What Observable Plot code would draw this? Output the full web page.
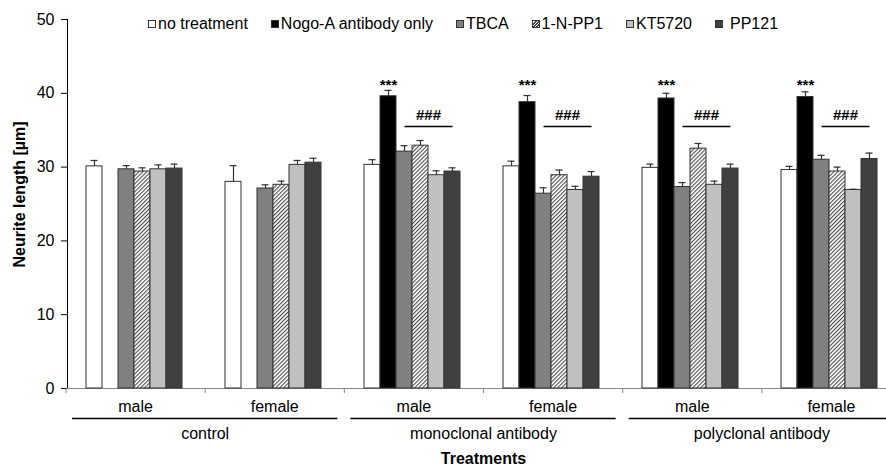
<!DOCTYPE html>
<html><head><meta charset="utf-8">
<script src="https://cdn.jsdelivr.net/npm/d3@7"></script>
<script src="https://cdn.jsdelivr.net/npm/@observablehq/plot@0.6"></script>
<style>
body{margin:0;background:#fff;overflow:hidden;font-family:"Liberation Sans",Arial,sans-serif;}
#wrap{position:relative;width:886px;height:466px;}
#legend{position:absolute;left:148px;top:15px;display:flex;align-items:center;font-size:16px;color:#000;white-space:nowrap;}
#legend .item{display:flex;align-items:center;margin-right:23px;}
#legend .sw{width:8px;height:8px;border:1px solid #333;box-sizing:border-box;margin-right:2px;}
</style></head><body>
<div id="wrap"><div id="legend"></div></div>
<script>
// ---- data ----
const groups = ["control|male","control|female","monoclonal|male","monoclonal|female","polyclonal|male","polyclonal|female"];
const sexLabels = ["male","female","male","female","male","female"];
const categories = ["control","monoclonal antibody","polyclonal antibody"];
const treatments = ["no treatment","Nogo-A antibody only","TBCA","1-N-PP1","KT5720","PP121"];
const fills = ["#ffffff","#000000","#808080","url(#hatch)","#c0c0c0","#404040"];

const noTreatment    = [30.1, 28.0, 30.3, 30.1, 29.9, 29.6];
const noTreatmentErr = [0.8, 2.2, 0.7, 0.7, 0.5, 0.5];
const nogoA          = [null, null, 39.6, 38.8, 39.3, 39.5];
const nogoAErr       = [null, null, 0.8, 0.9, 0.7, 0.7];
const tbca           = [29.7, 27.1, 32.1, 26.4, 27.3, 31.0];
const tbcaErr        = [0.5, 0.5, 0.8, 0.8, 0.6, 0.6];
const nPP1           = [29.4, 27.6, 32.9, 28.9, 32.5, 29.4];
const nPP1Err        = [0.5, 0.5, 0.7, 0.7, 0.7, 0.6];
const kt5720         = [29.7, 30.3, 28.9, 26.9, 27.6, 26.9];
const kt5720Err      = [0.6, 0.6, 0.6, 0.5, 0.5, 0.1];
const pp121          = [29.8, 30.6, 29.4, 28.7, 29.8, 31.1];
const pp121Err       = [0.6, 0.6, 0.5, 0.7, 0.6, 0.8];

const starMarks = ["", "", "***", "***", "***", "***"];
const hashMarks = ["", "", "###", "###", "###", "###"];
const starLevel = 41.1, hashTextLevel = 37.0, hashLineLevel = 35.5;
const yTicks = [0, 10, 20, 30, 40, 50];

// ---- table ----
const series = [[noTreatment, noTreatmentErr],[nogoA, nogoAErr],[tbca, tbcaErr],[nPP1, nPP1Err],[kt5720, kt5720Err],[pp121, pp121Err]];
const rows = [];
groups.forEach((g, gi) => series.forEach(([m, e], ti) => {
  if (m[gi] != null) rows.push({grp: g, treat: treatments[ti], mean: m[gi], sem: e[gi]});
}));
const sig = groups.map((g, i) => ({grp: g, star: starMarks[i], hash: hashMarks[i]})).filter(d => d.star);

// ---- legend ----
const leg = document.getElementById("legend");
treatments.forEach((t, i) => {
  const it = document.createElement("div"); it.className = "item";
  const sw = document.createElement("div"); sw.className = "sw";
  sw.style.background = i === 3 ? "repeating-linear-gradient(-45deg,#fff 0 1.2px,#444 1.2px 2.2px)" : fills[i];
  const tx = document.createElement("span"); tx.textContent = t;
  if (t === "PP121") sw.style.marginRight = "7px";
  it.append(sw, tx); leg.append(it);
});

const plot = Plot.plot({
  width: 886, height: 466,
  marginTop: 19, marginBottom: 78, marginLeft: 66, marginRight: 0,
  style: {fontFamily: "'Liberation Sans', Arial, sans-serif", fontSize: "16px", color: "#000", background: "transparent"},
  fx: {domain: groups, padding: 0, range: [66, 901], axis: null},
  x: {domain: treatments, paddingInner: 0, paddingOuter: 1.27, align: 0.44, axis: null},
  y: {domain: [0, 50], ticks: yTicks, tickSize: 6, tickPadding: 7, label: null, line: true},
  color: {domain: treatments, range: fills, legend: false},
  marks: [
    Plot.ruleY([0], {stroke: "#888"}),
    Plot.barY(rows, {fx: "grp", x: "treat", y: "mean", fill: "treat", stroke: "#333", strokeWidth: 1}),
    Plot.ruleX(rows, {fx: "grp", x: "treat", y1: "mean", y2: d => d.mean + d.sem, stroke: "#333", strokeWidth: 1.2}),
    Plot.tickY(rows, {fx: "grp", x: "treat", y: d => d.mean + d.sem, insetLeft: 4.5, insetRight: 4.5, stroke: "#333", strokeWidth: 1.2}),
    Plot.text(sig, {fx: "grp", x: () => "Nogo-A antibody only", y: () => starLevel, text: "star", fontSize: 15, fontWeight: "bold"}),
    Plot.text(sig, {fx: "grp", x: () => "1-N-PP1", dx: 8, y: () => hashTextLevel, text: "hash", fontSize: 15, fontWeight: "bold", textDecoration: "underline"}),
    Plot.link(sig, {fx: "grp", x1: () => "TBCA", x2: () => "PP121", y1: () => hashLineLevel, y2: () => hashLineLevel, stroke: "#000", strokeWidth: 1.6})
  ]
});

// ---- hatch pattern and bottom labels using plot's scales ----
const svg = d3.select(plot);
const defs = svg.insert("defs", ":first-child");
const pw = 2.8;
const pat = defs.append("pattern").attr("id", "hatch").attr("patternUnits", "userSpaceOnUse")
  .attr("width", pw).attr("height", pw).attr("patternTransform", "rotate(45)");
pat.append("rect").attr("width", pw).attr("height", pw).attr("fill", "#fff");
pat.append("rect").attr("x", 0).attr("y", 0).attr("width", 1.1).attr("height", pw).attr("fill", "#4a4a4a");

const fxS = plot.scale("fx"), yS = plot.scale("y");
const band = d3.scaleBand().domain(fxS.domain).range(fxS.range).padding(0);
const y0 = yS.apply(0);
const g = svg.append("g").attr("font-family", "'Liberation Sans', Arial, sans-serif").attr("font-size", 16).attr("fill", "#000");
// boundary ticks
g.selectAll("line.bt").data(groups).join("line").attr("class", "bt")
  .attr("x1", d => band(d)).attr("x2", d => band(d)).attr("y1", y0).attr("y2", y0 + 5).attr("stroke", "#888");
// sex labels
g.selectAll("text.sx").data(groups).join("text").attr("class", "sx")
  .attr("x", d => band(d) + band.bandwidth() / 2).attr("y", y0 + 18).attr("dy", "0.35em").attr("text-anchor", "middle")
  .text((d, i) => sexLabels[i]);
// category lines and labels
categories.forEach((c, i) => {
  const a = band(groups[2 * i]), b = band(groups[2 * i + 1]) + band.bandwidth();
  g.append("line").attr("x1", a + 6).attr("x2", b - 7).attr("y1", y0 + 30.5).attr("y2", y0 + 30.5).attr("stroke", "#000").attr("stroke-width", 1.5);
  g.append("text").attr("x", (a + b) / 2).attr("y", y0 + 45).attr("dy", "0.35em").attr("text-anchor", "middle").text(c);
});
// axis titles
const [r0, r1] = fxS.range;
g.append("text").attr("x", (r0 + r1) / 2).attr("y", y0 + 70).attr("dy", "0.35em").attr("text-anchor", "middle")
  .attr("font-weight", "bold").text("Treatments");
const yr = yS.range;
g.append("text").attr("transform", `translate(19,${(yr[0] + yr[1]) / 2 - 9}) rotate(-90)`).attr("dy", "0.35em")
  .attr("text-anchor", "middle").attr("font-weight", "bold").text("Neurite length [µm]");

document.getElementById("wrap").prepend(plot);
</script>
</body></html>
